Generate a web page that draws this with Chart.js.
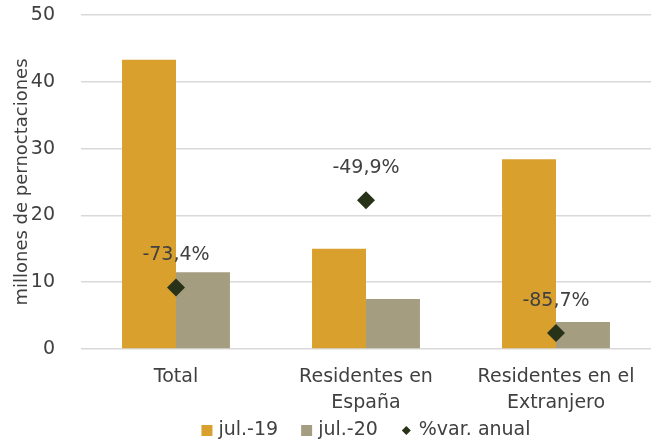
<!DOCTYPE html>
<html><head><meta charset="utf-8">
<script src="https://cdn.jsdelivr.net/npm/chart.js@4/dist/chart.umd.min.js"></script>
<style>html,body{margin:0;padding:0;background:#fff}#wrap{width:659px;height:445px}</style>
</head><body><div id="wrap"><canvas id="c" width="659" height="445"></canvas></div>
<script>
const categories = [['Total'], ['Residentes en', 'España'], ['Residentes en el', 'Extranjero']];
const jul19 = [43.3, 15.0, 28.4];
const jul20 = [11.5, 7.5, 4.05];
const varAnual = [-73.4, -49.9, -85.7];
const yTicks = [0, 10, 20, 30, 40, 50];
const seriesNames = ['jul.-19', 'jul.-20', '%var. anual'];
const seriesColors = ['#D9A02E', '#A59D7F', '#283218'];

const FONT = "'DejaVu Sans', sans-serif";
const FS = 19;
const TXT = '#404040';

const labelPlugin = {
  id: 'varLabels',
  afterDatasetsDraw(chart) {
    const ctx = chart.ctx;
    const meta = chart.getDatasetMeta(2);
    ctx.save();
    ctx.font = FS + "px " + FONT;
    ctx.fillStyle = TXT;
    ctx.textAlign = 'center';
    ctx.textBaseline = 'middle';
    meta.data.forEach((pt, i) => {
      ctx.fillText(varAnual[i].toFixed(1).replace('.', ',') + '%', pt.x, pt.y - 32);
    });
    ctx.restore();
  }
};

const legendPlugin = {
  id: 'customLegend',
  afterDraw(chart) {
    const ctx = chart.ctx;
    ctx.save();
    ctx.font = FS + "px " + FONT;
    ctx.textBaseline = 'middle';
    ctx.textAlign = 'left';
    const cy = 430.5;
    const items = seriesNames.map((name, i) => {
      const markW = 11;
      const gap = i === 2 ? 7 : 6;
      return { name, i, markW, gap, textW: ctx.measureText(name).width };
    });
    const between = 23;
    let total = 0;
    items.forEach((it, k) => { total += it.markW + it.gap + it.textW + (k < items.length - 1 ? between : 0); });
    const ca = chart.chartArea;
    let x = (ca.left + ca.right) / 2 - total / 2;
    items.forEach((it) => {
      ctx.fillStyle = seriesColors[it.i];
      if (it.i < 2) {
        ctx.fillRect(x, cy - 5.5, 11, 11);
      } else {
        const mx = x + 5.5;
        ctx.beginPath();
        ctx.moveTo(mx, cy - 4.5); ctx.lineTo(mx + 4.5, cy); ctx.lineTo(mx, cy + 4.5); ctx.lineTo(mx - 4.5, cy);
        ctx.closePath(); ctx.fill();
      }
      x += it.markW + it.gap;
      ctx.fillStyle = TXT;
      ctx.fillText(it.name, x, cy);
      x += it.textW + between;
    });
    ctx.restore();
  }
};

new Chart(document.getElementById('c'), {
  type: 'bar',
  data: {
    labels: categories,
    datasets: [
      { label: seriesNames[0], data: jul19, backgroundColor: seriesColors[0], categoryPercentage: 0.568, barPercentage: 1, yAxisID: 'y', order: 2 },
      { label: seriesNames[1], data: jul20, backgroundColor: seriesColors[1], categoryPercentage: 0.568, barPercentage: 1, yAxisID: 'y', order: 2 },
      { label: seriesNames[2], type: 'line', data: varAnual, showLine: false, yAxisID: 'y1', pointStyle: 'rectRot', pointRadius: 9, pointHoverRadius: 9, backgroundColor: seriesColors[2], borderColor: seriesColors[2], borderWidth: 0, order: 1 }
    ]
  },
  options: {
    responsive: false,
    animation: false,
    events: [],
    layout: { autoPadding: false, padding: { left: 10, right: 8, top: 15, bottom: 28 } },
    plugins: {
      tooltip: { enabled: false },
      legend: { display: false }
    },
    scales: {
      x: {
        grid: { display: false, drawTicks: false },
        border: { display: false },
        ticks: { font: { family: FONT, size: FS, lineHeight: 1.37 }, color: TXT, padding: 15, maxRotation: 0, autoSkip: false },
        afterFit(axis) { axis.height = 68; axis.paddingLeft = 0; axis.paddingRight = 0; }
      },
      y: {
        min: 0, max: 50,
        afterBuildTicks(axis) { axis.ticks = yTicks.map(v => ({ value: v })); },
        grid: { color: '#D9D9D9', lineWidth: 1.5, drawTicks: false },
        border: { display: false },
        ticks: { font: { family: FONT, size: FS }, color: TXT, padding: 26 },
        title: { display: true, text: 'millones de pernoctaciones', font: { family: FONT, size: 18 }, color: TXT, padding: 2 },
        afterFit(axis) { axis.width = 71; axis.paddingTop = 0; axis.paddingBottom = 0; }
      },
      y1: { min: -90, max: 0, display: false, position: 'right' }
    }
  },
  plugins: [labelPlugin, legendPlugin]
});
</script></body></html>
